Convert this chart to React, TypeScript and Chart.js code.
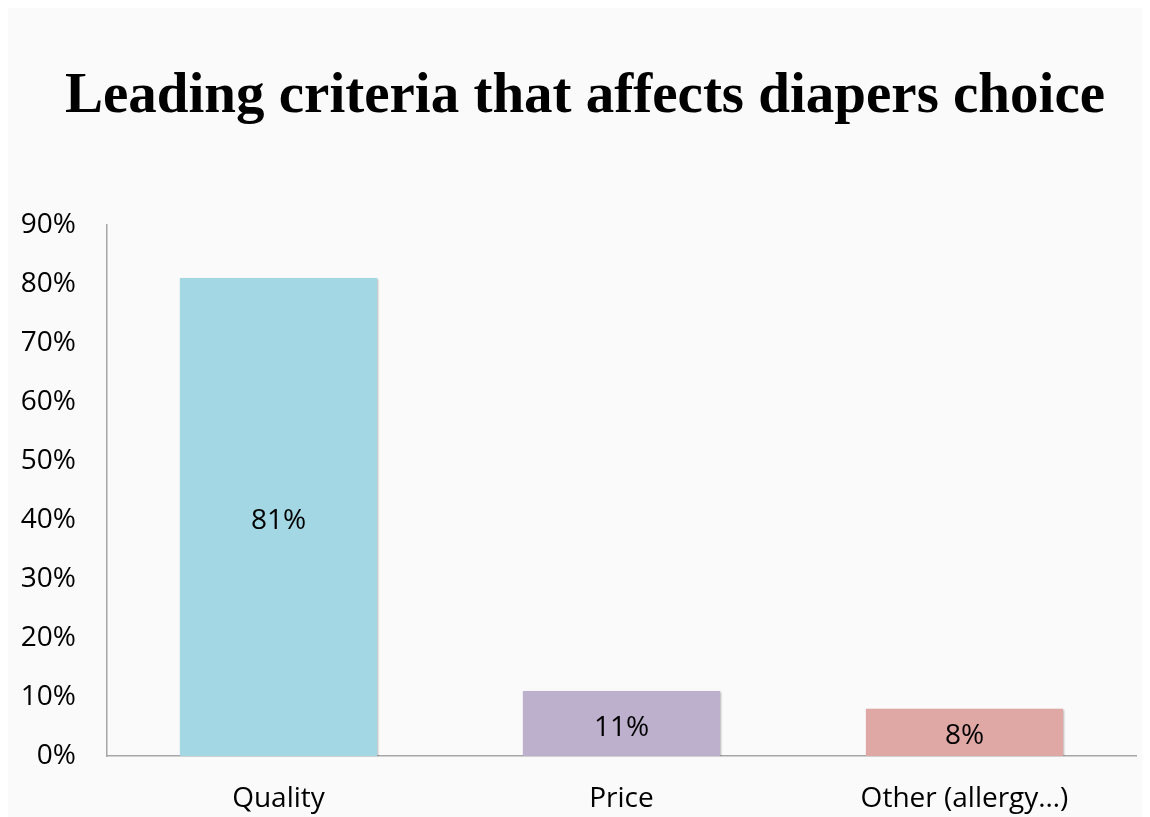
import React, { useEffect, useRef } from "react";
import { Chart, registerables } from "chart.js";

Chart.register(...registerables);

const categories: string[] = ["Quality", "Price", "Other (allergy…)"];
const shares: number[] = [81, 11, 8];
const barColors: string[] = ["#a3d7e3", "#bdb0cd", "#dfa8a5"];
const yTicks: number[] = [0, 10, 20, 30, 40, 50, 60, 70, 80, 90];
const titleText = "Leading criteria that affects diapers choice";

const sansFont = "'Open Sans', 'DejaVu Sans', sans-serif";
const titleFont = "bold 57px 'Liberation Serif', 'Times New Roman', serif";
const labelSize = 28;

// Paints the light panel behind the whole chart.
const panelBackground = {
  id: "panelBackground",
  beforeDraw(chart: Chart) {
    const { ctx, width, height } = chart;
    ctx.save();
    ctx.fillStyle = "#fafafa";
    ctx.fillRect(0, 0, width, height);
    ctx.restore();
  },
};

// Chart heading, centred on the panel.
const panelTitle = {
  id: "panelTitle",
  afterDraw(chart: Chart) {
    const { ctx } = chart;
    ctx.save();
    ctx.font = titleFont;
    ctx.fillStyle = "#000";
    ctx.textAlign = "center";
    ctx.textBaseline = "alphabetic";
    ctx.fillText(titleText, 577, 104);
    ctx.restore();
  },
};

// Soft drop shadow under the bars.
const barShadow = {
  id: "barShadow",
  beforeDatasetDraw(chart: Chart) {
    const ctx = chart.ctx;
    ctx.save();
    ctx.shadowColor = "rgba(0,0,0,0.28)";
    ctx.shadowBlur = 2;
    ctx.shadowOffsetX = 1;
    ctx.shadowOffsetY = 1;
  },
  afterDatasetDraw(chart: Chart) {
    chart.ctx.restore();
  },
};

// Value labels centred inside each bar.
const barValueLabels = {
  id: "barValueLabels",
  afterDatasetsDraw(chart: Chart) {
    const { ctx } = chart;
    const meta = chart.getDatasetMeta(0);
    ctx.save();
    ctx.font = `${labelSize}px ${sansFont}`;
    ctx.fillStyle = "#000";
    ctx.textAlign = "center";
    ctx.textBaseline = "middle";
    meta.data.forEach((el: any, i: number) => {
      const { x, y, base } = el.getProps(["x", "y", "base"], true);
      ctx.fillText(`${shares[i]}%`, x, (y + base) / 2 + 4);
    });
    ctx.restore();
  },
};

export default function App() {
  const canvasRef = useRef<HTMLCanvasElement | null>(null);

  useEffect(() => {
    document.body.style.overflow = "hidden";
    const canvas = canvasRef.current;
    if (!canvas) return;
    const chart = new Chart(canvas, {
      type: "bar",
      data: {
        labels: categories,
        datasets: [
          {
            data: shares,
            backgroundColor: barColors,
            borderWidth: 0,
            categoryPercentage: 1,
            barPercentage: 0.575,
          },
        ],
      },
      options: {
        animation: false,
        responsive: false,
        maintainAspectRatio: false,
        layout: { padding: { top: 217, right: 14, bottom: 0, left: 0 } },
        plugins: {
          legend: { display: false },
          tooltip: { enabled: false },
          title: { display: false },
        },
        scales: {
          x: {
            grid: { display: false, drawTicks: false },
            border: { display: true, color: "#a6a6a6", width: 1.5 },
            ticks: { color: "#000", font: { family: sansFont, size: labelSize }, padding: 26 },
            afterFit(scale: any) {
              scale.height = 61;
            },
          },
          y: {
            min: 0,
            max: 90,
            afterBuildTicks(scale: any) {
              scale.ticks = yTicks.map((v) => ({ value: v }));
            },
            grid: { display: false, drawTicks: false },
            border: { display: true, color: "#a6a6a6", width: 1.5 },
            ticks: {
              color: "#000",
              font: { family: sansFont, size: labelSize },
              padding: 31,
              callback: (v: any) => `${v}%`,
            },
            afterFit(scale: any) {
              scale.width = 99;
            },
          },
        },
      },
      plugins: [panelBackground, barShadow, barValueLabels, panelTitle],
    });
    return () => chart.destroy();
  }, []);

  return (
    <div style={{ width: 1142, height: 809 }}>
      <canvas ref={canvasRef} width={1142} height={809} style={{ display: "block" }} />
    </div>
  );
}
